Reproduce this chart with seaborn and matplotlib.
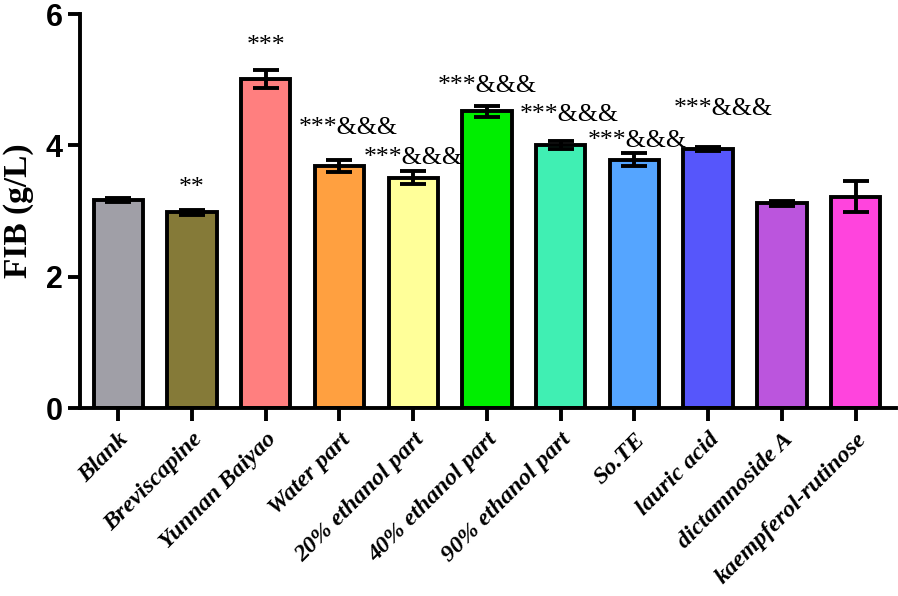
import numpy as np
import pandas as pd
import seaborn as sns
import matplotlib.pyplot as plt

# values
groups = ['Blank', 'Breviscapine', 'Yunnan Baiyao', 'Water part',
          '20% ethanol part', '40% ethanol part', '90% ethanol part',
          'So.TE', 'lauric acid', 'dictamnoside A', 'kaempferol-rutinose']
fib = [3.17, 2.98, 5.01, 3.69, 3.51, 4.52, 4.00, 3.78, 3.95, 3.12, 3.22]
sem = [0.03, 0.04, 0.14, 0.09, 0.10, 0.08, 0.06, 0.10, 0.03, 0.04, 0.24]
marks = ['', '**', '***', '***&&&', '***&&&', '***&&&', '***&&&',
         '***&&&', '***&&&', '', '']

colors = ['#a09fa7', '#857a38', '#ff7f7f', '#ffa040', '#ffff99', '#00ee00',
          '#40efb3', '#55a5ff', '#5656fb', '#bb55dd', '#ff44dd']

df = pd.DataFrame({'group': groups, 'FIB': fib})

sns.set_style('ticks')
plt.rcParams['font.family'] = ['Liberation Serif', 'DejaVu Serif']
plt.rcParams['text.color'] = 'black'
plt.rcParams['xtick.color'] = 'black'
plt.rcParams['ytick.color'] = 'black'
plt.rcParams['axes.labelcolor'] = 'black'

fig = plt.figure(figsize=(8.98, 5.96), dpi=100)
ax = fig.add_axes([0.089, 0.315, 0.909, 0.6615])

sns.barplot(data=df, x='group', y='FIB', hue='group', palette=colors,
            legend=False, width=0.67, edgecolor='black', linewidth=2.8,
            saturation=1, ax=ax, zorder=2)

ax.errorbar(np.arange(len(groups)), fib, yerr=sem, fmt='none',
            ecolor='black', elinewidth=2.8, capsize=9.5, capthick=2.8,
            zorder=3)

# significance labels (offset above each error bar, nudged as in the figure)
dy = [0, 0.33, 0.36, 0.48, 0.20, 0.30, 0.40, 0.18, 0.58, 0, 0]
dx = [0, 0, 0, 0.12, 0, 0, 0.12, 0.04, 0.2, 0, 0]
for i, m in enumerate(marks):
    if m:
        ax.text(i + dx[i], fib[i] + sem[i] + dy[i], m, ha='center',
                va='center', fontsize=18.5, color='black',
                family='Liberation Serif')

ax.set_ylim(0, 6)
ax.set_xlim(-0.52, 10.55)
ax.set_yticks([0, 2, 4, 6])
ax.set_xlabel('')
ax.set_ylabel('FIB (g/L)', fontsize=24, fontweight='bold',
              family='Liberation Serif', labelpad=8)

ax.set_xticks(range(len(groups)))
ax.set_xticklabels(groups, rotation=45, ha='right', rotation_mode='anchor')
for lab in ax.get_xticklabels():
    lab.set_family('Liberation Serif')
    lab.set_fontweight('bold')
    lab.set_fontstyle('italic')
    lab.set_fontsize(17.5)
for lab in ax.get_yticklabels():
    lab.set_family(['Liberation Sans Narrow', 'Liberation Sans'])
    lab.set_fontweight('bold')
    lab.set_fontsize(22)

ax.tick_params(axis='both', width=2.8, length=9, color='black')
ax.tick_params(axis='x', pad=6)
for s in ['left', 'bottom']:
    ax.spines[s].set_linewidth(2.8)
    ax.spines[s].set_color('black')
sns.despine(ax=ax)

fig.savefig('out.png', dpi=100)
